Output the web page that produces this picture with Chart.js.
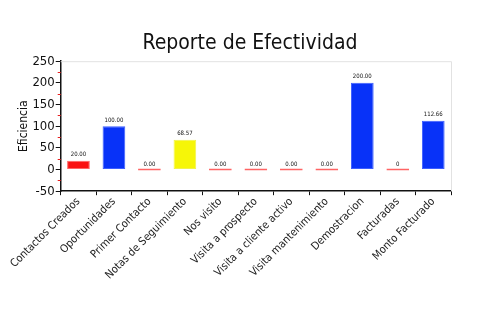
<!DOCTYPE html>
<html>
<head>
<meta charset="utf-8">
<script src="https://cdn.jsdelivr.net/npm/chart.js@4.4.1/dist/chart.umd.min.js"></script>
<style>
    html, body { margin: 0; padding: 0; background: #fff; }
</style>
</head>
<body>
<canvas id="grafico" width="500" height="330"></canvas>
<script>
const categorias = ["Contactos Creados", "Oportunidades", "Primer Contacto", "Notas de Seguimiento", "Nos visito",
    "Visita a prospecto", "Visita a cliente activo", "Visita mantenimiento", "Demostracion", "Facturadas", "Monto Facturado"];
const eficiencia = [20, 100, 0, 68.57, 0, 0, 0, 0, 200, 0, 112.66];
const decimales = [2, 2, 2, 2, 2, 2, 2, 2, 2, 0, 2];
const coloresBarra = ["rojo", "azul", "rojo", "amarillo", "rojo", "rojo", "rojo", "rojo", "azul", "rojo", "azul"];
const ticksY = [-50, 0, 50, 100, 150, 200, 250];

const paleta = {
    rojo: { fondo: "#fa1212", borde: "#ff6464" },
    azul: { fondo: "#0832f8", borde: "#3c5eff" },
    amarillo: { fondo: "#f6f608", borde: "#f2f24a" }
};

const fuente = "'DejaVu Sans Condensed', 'DejaVu Sans', sans-serif";
const peso = "normal condensed";

// valor encima de cada barra
const etiquetasValor = {
    id: "etiquetasValor",
    afterDatasetsDraw(chart) {
        const ctx = chart.ctx;
        const meta = chart.getDatasetMeta(0);
        ctx.save();
        ctx.font = peso + " 6px " + fuente;
        ctx.fillStyle = "#111";
        ctx.textAlign = "center";
        ctx.textBaseline = "bottom";
        meta.data.forEach((barra, i) => {
            ctx.fillText(eficiencia[i].toFixed(decimales[i]), barra.x, barra.y - 3);
        });
        ctx.restore();
    }
};

// marcas menores rojas entre las marcas del eje Y
const marcasMenores = {
    id: "marcasMenores",
    afterDraw(chart) {
        const y = chart.scales.y;
        const ctx = chart.ctx;
        ctx.save();
        ctx.strokeStyle = "#e82020";
        ctx.lineWidth = 1;
        for (let i = 0; i < ticksY.length - 1; i++) {
            const py = Math.round(y.getPixelForValue((ticksY[i] + ticksY[i + 1]) / 2)) + 0.5;
            ctx.beginPath();
            ctx.moveTo(y.right - 3, py);
            ctx.lineTo(y.right, py);
            ctx.stroke();
        }
        // borde superior y derecho
        const a = chart.chartArea;
        ctx.strokeStyle = "#e2e2e2";
        ctx.beginPath();
        ctx.moveTo(a.left, a.top + 0.5);
        ctx.lineTo(a.right + 0.5, a.top + 0.5);
        ctx.lineTo(a.right + 0.5, a.bottom);
        ctx.stroke();
        ctx.restore();
    }
};

new Chart(document.getElementById("grafico"), {
    type: "bar",
    data: {
        labels: categorias,
        datasets: [{
            label: "Eficiencia",
            data: eficiencia,
            backgroundColor: coloresBarra.map(c => paleta[c].fondo),
            borderColor: coloresBarra.map(c => paleta[c].borde),
            borderWidth: 1,
            borderSkipped: false,
            minBarLength: 2,
            categoryPercentage: 1,
            barPercentage: 0.64
        }]
    },
    options: {
        responsive: false,
        animation: false,
        devicePixelRatio: 1,
        layout: { padding: { left: 17, right: 17, top: 0, bottom: 48 } },
        plugins: {
            legend: { display: false },
            tooltip: { enabled: false },
            title: {
                display: true,
                text: "Reporte de Efectividad",
                color: "#111",
                font: { family: fuente, size: 21, weight: peso },
                padding: { top: 31, bottom: 5 }
            }
        },
        scales: {
            x: {
                grid: { display: true, drawOnChartArea: false, drawTicks: true, tickLength: 4, color: "#111" },
                border: { display: true, color: "#111", width: 1.5 },
                ticks: {
                    color: "#222",
                    font: { family: fuente, size: 11, weight: peso },
                    maxRotation: 45,
                    minRotation: 45,
                    autoSkip: false,
                    padding: 0
                }
            },
            y: {
                min: -50,
                max: 250,
                afterBuildTicks: (escala) => { escala.ticks = ticksY.map(v => ({ value: v })); },
                grid: { display: true, drawOnChartArea: false, drawTicks: true, tickLength: 5, color: "#111" },
                border: { display: true, color: "#111", width: 1.5 },
                ticks: {
                    color: "#111",
                    font: { family: fuente, size: 13, weight: peso },
                    padding: 1
                },
                title: {
                    display: true,
                    text: "Eficiencia",
                    color: "#111",
                    font: { family: fuente, size: 12, weight: peso },
                    padding: 0
                }
            },
            // margen derecho vacío, así el título queda centrado en el lienzo
            margenDerecho: {
                type: "linear",
                position: "right",
                grid: { display: false },
                border: { display: false },
                ticks: { display: false },
                afterFit: (escala) => { escala.width = 32; }
            }
        }
    },
    plugins: [etiquetasValor, marcasMenores]
});
</script>
</body>
</html>
